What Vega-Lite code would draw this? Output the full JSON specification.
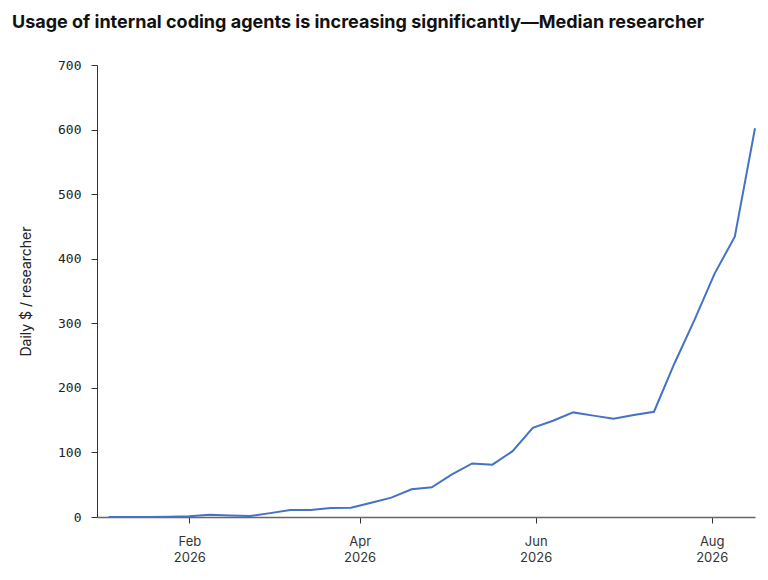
{
  "$schema": "https://vega.github.io/schema/vega-lite/v6.json",
  "width": 658,
  "height": 452,
  "autosize": "none",
  "padding": {"left": 97, "top": 65, "right": 13, "bottom": 63},
  "background": "white",
  "title": {
    "text": "Usage of internal coding agents is increasing significantly\u2014Median researcher",
    "anchor": "start",
    "frame": "group",
    "dx": -85,
    "offset": 27,
    "font": "Inter",
    "fontSize": 18,
    "fontWeight": "bold",
    "color": "#111111"
  },
  "data": {
    "values": [
      {"week": "2026-01-04", "spend": 0},
      {"week": "2026-01-11", "spend": 0},
      {"week": "2026-01-18", "spend": 0},
      {"week": "2026-01-25", "spend": 0.5},
      {"week": "2026-02-01", "spend": 1},
      {"week": "2026-02-08", "spend": 3.5},
      {"week": "2026-02-15", "spend": 2.5},
      {"week": "2026-02-22", "spend": 1.5},
      {"week": "2026-03-01", "spend": 6},
      {"week": "2026-03-08", "spend": 11},
      {"week": "2026-03-15", "spend": 11},
      {"week": "2026-03-22", "spend": 14},
      {"week": "2026-03-29", "spend": 14.5},
      {"week": "2026-04-05", "spend": 22},
      {"week": "2026-04-12", "spend": 30},
      {"week": "2026-04-19", "spend": 43},
      {"week": "2026-04-26", "spend": 46},
      {"week": "2026-05-03", "spend": 66},
      {"week": "2026-05-10", "spend": 83},
      {"week": "2026-05-17", "spend": 81},
      {"week": "2026-05-24", "spend": 102},
      {"week": "2026-05-31", "spend": 138},
      {"week": "2026-06-07", "spend": 149},
      {"week": "2026-06-14", "spend": 162},
      {"week": "2026-06-21", "spend": 157},
      {"week": "2026-06-28", "spend": 152},
      {"week": "2026-07-05", "spend": 158},
      {"week": "2026-07-12", "spend": 163},
      {"week": "2026-07-19", "spend": 237},
      {"week": "2026-07-26", "spend": 305},
      {"week": "2026-08-02", "spend": 377},
      {"week": "2026-08-09", "spend": 434},
      {"week": "2026-08-16", "spend": 602}
    ]
  },
  "mark": {"type": "line", "color": "#4472c4", "strokeWidth": 2},
  "encoding": {
    "x": {
      "field": "week",
      "type": "temporal",
      "title": null,
      "scale": {
        "type": "utc",
        "domain": [
          {"year": 2025, "month": 12, "date": 31, "utc": true},
          {"year": 2026, "month": 8, "date": 16, "utc": true}
        ]
      },
      "axis": {
        "values": [
          {"year": 2026, "month": 2, "date": 1, "utc": true},
          {"year": 2026, "month": 4, "date": 1, "utc": true},
          {"year": 2026, "month": 6, "date": 1, "utc": true},
          {"year": 2026, "month": 8, "date": 1, "utc": true}
        ],
        "labelExpr": "[utcFormat(datum.value, '%b'), utcFormat(datum.value, '%Y')]",
        "labelFont": "Inter",
        "labelFontSize": 13,
        "labelColor": "#333333",
        "labelLineHeight": 16,
        "labelPadding": 12,
        "tickSize": 6,
        "tickColor": "#333333",
        "domainColor": "#666666",
        "domainWidth": 1.5,
        "grid": false
      }
    },
    "y": {
      "field": "spend",
      "type": "quantitative",
      "title": "Daily $ / researcher",
      "scale": {"domain": [0, 700]},
      "axis": {
        "values": [0, 100, 200, 300, 400, 500, 600, 700],
        "labelFont": "DejaVu Sans Mono",
        "labelFontSize": 13,
        "labelColor": "#222222",
        "labelPadding": 10,
        "tickSize": 6,
        "tickColor": "#333333",
        "domainColor": "#333333",
        "titleFont": "Inter",
        "titleFontSize": 14,
        "titleFontWeight": "normal",
        "titleColor": "#222222",
        "titlePadding": 24,
        "grid": false
      }
    }
  },
  "config": {"view": {"stroke": null}}
}
